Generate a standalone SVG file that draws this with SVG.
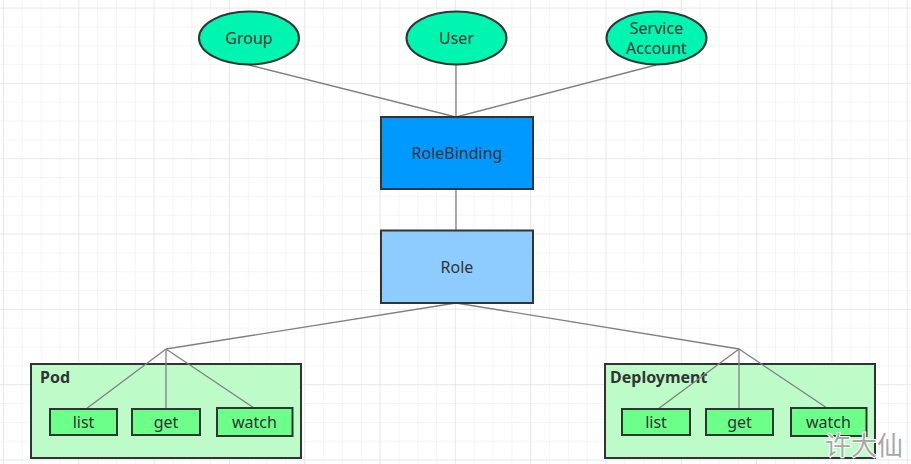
<svg xmlns="http://www.w3.org/2000/svg" width="911" height="464" viewBox="0 0 911 464">
<defs>
<pattern id="minor" x="3" y="7.6" width="18.83" height="18.83" patternUnits="userSpaceOnUse">
<path d="M0 0V18.83M0 0H18.83" fill="none" stroke="#ececec" stroke-width="1"/>
</pattern>
<pattern id="major" x="3" y="7.6" width="75.3" height="75.3" patternUnits="userSpaceOnUse">
<path d="M0 0V75.3M0 0H75.3" fill="none" stroke="#e0e0e0" stroke-width="1"/>
</pattern>
</defs>
<style>
.lbl{font-family:"Noto Sans","Liberation Sans",sans-serif;font-size:16px;fill:#333;text-anchor:middle;dominant-baseline:central}
.ttl{font-family:"Noto Sans","Liberation Sans",sans-serif;font-size:16px;font-weight:bold;fill:#333}
.ell{fill:#00F5B0;stroke:#333;stroke-width:2}
.grp{fill:#BDFCC9;stroke:#333;stroke-width:2}
.op{fill:#6CFF8A;stroke:#333;stroke-width:2}
.conn line{stroke:#808080;stroke-width:1.3}
</style>
<rect width="911" height="464" fill="#fff"/>
<rect width="911" height="464" fill="url(#minor)"/>
<rect width="911" height="464" fill="url(#major)"/>

<g id="connectors" class="conn">
<line x1="249" y1="65" x2="456" y2="117"/>
<line x1="456" y1="65" x2="456" y2="117"/>
<line x1="656" y1="65" x2="456" y2="117"/>
<line x1="456" y1="189" x2="456" y2="230"/>
<line x1="456" y1="303" x2="166" y2="349"/>
<line x1="456" y1="303" x2="739" y2="349"/>
</g>

<g id="group"><ellipse class="ell" cx="249" cy="38" rx="50" ry="26.5"/><text class="lbl" x="249" y="38">Group</text></g>
<g id="user"><ellipse class="ell" cx="456.5" cy="38" rx="50" ry="26.5"/><text class="lbl" x="456.5" y="38">User</text></g>
<g id="serviceaccount"><ellipse class="ell" cx="656.5" cy="38" rx="50" ry="26.5"/><text class="lbl" x="656.5" y="28">Service</text><text class="lbl" x="656.5" y="48">Account</text></g>

<g id="rolebinding"><rect x="381" y="117" width="152" height="72" fill="#0099FF" stroke="#333" stroke-width="2"/><text class="lbl" x="457" y="153">RoleBinding</text></g>
<g id="role"><rect x="381" y="230.5" width="152" height="72.5" fill="#8ECCFF" stroke="#333" stroke-width="2"/><text class="lbl" x="457" y="267">Role</text></g>

<g id="pod">
<rect class="grp" x="31" y="364" width="270" height="94"/>
<text class="ttl" x="40" y="383">Pod</text>
</g>
<g id="deployment">
<rect class="grp" x="605" y="364" width="270" height="94"/>
<text class="ttl" x="610" y="383">Deployment</text>
</g>

<g id="pod-conn" class="conn">
<line x1="166" y1="349" x2="86" y2="409"/>
<line x1="166" y1="349" x2="166" y2="409"/>
<line x1="166" y1="349" x2="254" y2="408"/>
</g>
<g id="dep-conn" class="conn">
<line x1="739" y1="349" x2="658" y2="409"/>
<line x1="739" y1="349" x2="739" y2="409"/>
<line x1="739" y1="349" x2="827" y2="408"/>
</g>

<g id="pod-list"><rect class="op" x="50" y="409" width="67" height="26"/><text class="lbl" x="83.5" y="422">list</text></g>
<g id="pod-get"><rect class="op" x="132" y="409" width="68" height="26"/><text class="lbl" x="166" y="422">get</text></g>
<g id="pod-watch"><rect class="op" x="217" y="408" width="75.5" height="28"/><text class="lbl" x="254.5" y="422">watch</text></g>

<g id="dep-list"><rect class="op" x="622" y="409" width="68" height="26"/><text class="lbl" x="656" y="422">list</text></g>
<g id="dep-get"><rect class="op" x="706" y="409" width="67" height="26"/><text class="lbl" x="739.5" y="422">get</text></g>
<g id="dep-watch"><rect class="op" x="791" y="408" width="75.5" height="28"/><text class="lbl" x="828.5" y="422">watch</text></g>

<text x="864" y="455" font-family="'Noto Sans CJK SC',sans-serif" font-size="26" fill="#a8a8a8" stroke="#fff" stroke-width="2" paint-order="stroke" text-anchor="middle">许大仙</text>
</svg>
